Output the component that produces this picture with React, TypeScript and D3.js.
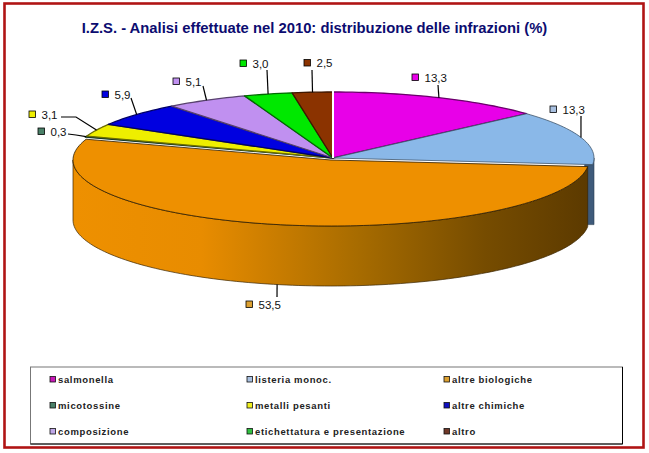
import * as d3 from "d3";

// ─── Data ─────────────────────────────────────────────────────────────────────

const TITLE = "I.Z.S. - Analisi effettuate nel 2010: distribuzione delle infrazioni (%)";
const CATEGORIES = [
  "salmonella",
  "listeria monoc.",
  "altre biologiche",
  "micotossine",
  "metalli pesanti",
  "altre chimiche",
  "composizione",
  "etichettatura e presentazione",
  "altro",
];
const VALUES = [13.3, 13.3, 53.5, 0.3, 3.1, 5.9, 5.1, 3.0, 2.5];
const VALUE_LABELS = ["13,3", "13,3", "53,5", "0,3", "3,1", "5,9", "5,1", "3,0", "2,5"];
const COLORS = ["#e800e8", "#8ab8e8", "#ee9000", "#2f7a5a", "#eeee00", "#0000e0", "#c090f0", "#00e800", "#8b3300"];
const LEGEND_COLORS = ["#c818b8", "#a8c0e0", "#dca030", "#4a8068", "#f0f020", "#1010c0", "#c0a8e8", "#30c040", "#703828"];

// ─── Layout ───────────────────────────────────────────────────────────────────

const W = 649;
const H = 453;
const CX = 333;
const CY = 158;
const RX = 261;
const RY = 66;
const DEPTH = 60;
const ORANGE = 2; // index of the pulled-out slice
const ORANGE_OFFSET = { x: -2, y: 2, rx: 258 };
const FONT = "'Liberation Sans', Arial, sans-serif";

// elbow and end of each leader, then swatch centre and text start of its label
const LEADERS: [number, number][][] = [
  [[438, 85]],
  [[581, 116]],
  [[277, 297]],
  [[76, 135], [68, 134]],
  [[76, 117], [61, 117]],
  [[131, 98]],
  [[203, 86]],
  [[267, 70]],
  [[312, 70]],
];
const LABEL_POS: [number, number][] = [
  [415, 77],
  [553, 109],
  [249, 304],
  [41, 131],
  [32, 114],
  [105, 94],
  [176, 81],
  [243, 63],
  [307, 62.5],
];

const slices = d3.pie<number>().sort(null)(VALUES);
const line = d3.line();

function rim(a: number, dx = 0, dy = 0, rx = RX): [number, number] {
  return [CX + dx + rx * Math.sin(a), CY + dy - RY * Math.cos(a)];
}

function rimPoints(a0: number, a1: number, dx = 0, dy = 0, rx = RX): [number, number][] {
  const n = Math.max(2, Math.ceil(Math.abs(a1 - a0) * 40));
  return d3.range(n + 1).map((i) => rim(a0 + ((a1 - a0) * i) / n, dx, dy, rx));
}

function topPath(a0: number, a1: number, dx = 0, dy = 0, rx = RX) {
  return line([[CX + dx, CY + dy], ...rimPoints(a0, a1, dx, dy, rx)])! + "Z";
}

function wallPath(a0: number, a1: number, dx = 0, dy = 0, rx = RX) {
  const top = rimPoints(a0, a1, dx, dy, rx);
  const bottom = top.map(([x, y]) => [x, y + DEPTH] as [number, number]).reverse();
  return line([...top, ...bottom])! + "Z";
}

function PieChart() {
  const orange = slices[ORANGE];
  const blue = slices[1];
  const { x: ox, y: oy, rx: orx } = ORANGE_OFFSET;
  // orange wall only shows on the front half of the ellipse
  const wallStart = orange.startAngle;
  const wallEnd = (3 * Math.PI) / 2;

  const blueTop = rimPoints(Math.PI / 2, blue.endAngle);
  const blueEnd = blueTop[blueTop.length - 1];
  const blueWall = line([
    ...blueTop,
    [blueEnd[0] - 8, blueEnd[1]],
    [blueEnd[0] - 8, blueEnd[1] + DEPTH],
    [CX + RX, blueEnd[1] + DEPTH],
    [CX + RX, CY],
  ])!;

  return (
    <svg width={W} height={H} style={{ position: "absolute", left: 0, top: 0 }}>
      <defs>
        <linearGradient id="wall" gradientUnits="userSpaceOnUse" x1={73} x2={588} y1={0} y2={0}>
          <stop offset="0" stopColor="#ee9000" />
          <stop offset="0.25" stopColor="#e88c00" />
          <stop offset="0.55" stopColor="#a86c00" />
          <stop offset="0.8" stopColor="#764c00" />
          <stop offset="1" stopColor="#5c3a00" />
        </linearGradient>
      </defs>

      <rect x={4.5} y={3.5} width={639} height={444} fill="#fff" stroke="#b01414" strokeWidth={2.6} />

      <text x={314.5} y={33} textAnchor="middle" fontFamily={FONT} fontWeight="bold" fontSize={14.8} fill="#0c0c70">
        {TITLE}
      </text>

      <path d={blueWall} fill="#3e5a7a" stroke="#2a3c50" strokeWidth={0.6} />

      {slices.map((s, i) =>
        i === ORANGE ? null : (
          <path
            key={i}
            d={topPath(s.startAngle, s.endAngle)}
            fill={COLORS[i]}
            stroke={d3.color(COLORS[i])!.darker(2.2).formatHex()}
            strokeWidth={i === 0 || i >= 3 ? 1.3 : 0.8}
            strokeLinejoin="round"
          />
        ),
      )}
      <line x1={CX} x2={CX} y1={CY - RY - 1} y2={CY} stroke="#fff" strokeWidth={2} />

      <path d={wallPath(wallStart, wallEnd, ox, oy, orx)} fill="url(#wall)" stroke="#3a2400" strokeWidth={0.7} />
      <path
        d={topPath(orange.startAngle, orange.endAngle, ox, oy, orx)}
        fill={COLORS[ORANGE]}
        stroke="#2a1a00"
        strokeWidth={0.8}
        strokeLinejoin="round"
      />

      {slices.map((s, i) => {
        const mid = (s.startAngle + s.endAngle) / 2;
        const p = i === ORANGE ? rim(mid, ox, oy, orx) : rim(mid);
        const start: [number, number] = i === ORANGE ? [p[0], p[1] + DEPTH] : p;
        const [sx, sy] = LABEL_POS[i];
        return (
          <g key={i}>
            <path d={line([start, ...LEADERS[i]])!} fill="none" stroke="#000" strokeWidth={1.2} />
            <rect
              x={sx - 3}
              y={sy - 3}
              width={6.5}
              height={6.5}
              fill={i === ORANGE || i === 3 || i === 1 ? LEGEND_COLORS[i] : COLORS[i]}
              stroke="#000"
              strokeWidth={0.8}
            />
            <text x={sx + 9.5} y={sy + 4.5} fontFamily={FONT} fontSize={11.5} fill="#111">
              {VALUE_LABELS[i]}
            </text>
          </g>
        );
      })}

      <Legend />
    </svg>
  );
}

function Legend() {
  const xS = d3.scaleBand<number>().domain([0, 1, 2]).range([50, 641]);
  const yS = d3.scalePoint<number>().domain([0, 1, 2]).range([379, 431]);
  return (
    <g>
      <rect x={30.5} y={367} width={592} height={77} fill="#fff" stroke="#777" strokeWidth={1} />
      <path d="M30.5,444H622.5V367" fill="none" stroke="#000" strokeWidth={1} />
      {CATEGORIES.map((c, i) => {
        const x = xS(i % 3)!;
        const y = yS(Math.floor(i / 3))!;
        return (
          <g key={c}>
            <rect x={x} y={y - 2.5} width={5.5} height={5.5} fill={LEGEND_COLORS[i]} stroke="#111" strokeWidth={0.8} />
            <text x={x + 8} y={y + 3.5} fontFamily={FONT} fontWeight="bold" fontSize={9.5} letterSpacing={0.65} fill="#222">
              {c}
            </text>
          </g>
        );
      })}
    </g>
  );
}

export default function App() {
  return <PieChart />;
}
